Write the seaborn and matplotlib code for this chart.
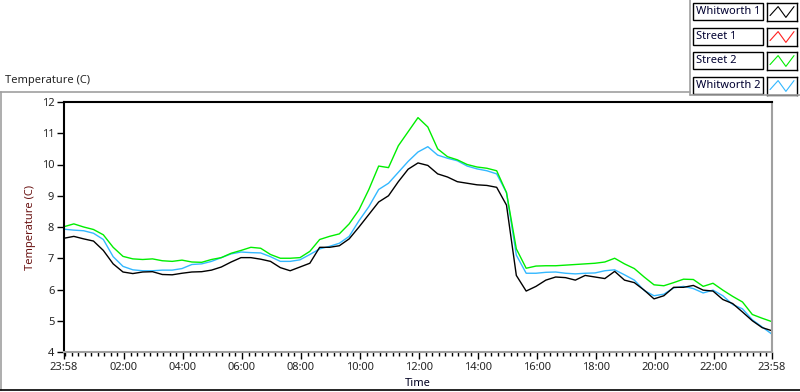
import numpy as np
import pandas as pd
import matplotlib
matplotlib.use("Agg")
import matplotlib.pyplot as plt
import seaborn as sns
from matplotlib.lines import Line2D
from matplotlib.patches import Rectangle

# samples every 20 minutes, counted from 23:58 the day before
minutes = np.arange(0, 1441, 20)

whitworth_1 = [7.64, 7.70, 7.62, 7.55, 7.25, 6.82, 6.56, 6.51, 6.56, 6.57,
               6.48, 6.47, 6.52, 6.56, 6.57, 6.62, 6.72, 6.88, 7.02, 7.02,
               6.97, 6.90, 6.70, 6.60, 6.72, 6.84, 7.35, 7.35, 7.40, 7.62,
               8.00, 8.40, 8.80, 9.00, 9.45, 9.85, 10.05, 9.97, 9.70, 9.60,
               9.45, 9.40, 9.35, 9.33, 9.27, 8.70, 6.45, 5.95, 6.10, 6.30,
               6.40, 6.38, 6.30, 6.45, 6.40, 6.35, 6.58, 6.30, 6.22, 5.98,
               5.70, 5.80, 6.07, 6.07, 6.13, 5.98, 5.95, 5.68, 5.55, 5.28,
               5.00, 4.78, 4.68]

street_1 = []  # no trace visible in the chart

street_2 = [8.01, 8.10, 8.00, 7.92, 7.75, 7.35, 7.06, 6.98, 6.96, 6.98,
            6.92, 6.90, 6.94, 6.88, 6.87, 6.96, 7.02, 7.16, 7.25, 7.35,
            7.32, 7.12, 7.00, 7.00, 7.02, 7.22, 7.60, 7.70, 7.78, 8.10,
            8.55, 9.20, 9.95, 9.90, 10.60, 11.05, 11.50, 11.20, 10.50, 10.25,
            10.15, 10.00, 9.92, 9.88, 9.80, 9.10, 7.30, 6.68, 6.75, 6.76,
            6.76, 6.78, 6.80, 6.82, 6.84, 6.88, 7.00, 6.82, 6.67, 6.40,
            6.15, 6.12, 6.22, 6.33, 6.32, 6.10, 6.20, 5.98, 5.78, 5.60,
            5.20, 5.08, 4.97]

whitworth_2 = [7.93, 7.90, 7.88, 7.80, 7.60, 7.05, 6.74, 6.63, 6.60, 6.60,
               6.62, 6.62, 6.67, 6.80, 6.82, 6.90, 7.02, 7.14, 7.20, 7.18,
               7.17, 7.05, 6.90, 6.90, 6.95, 7.12, 7.30, 7.38, 7.48, 7.70,
               8.20, 8.65, 9.20, 9.40, 9.75, 10.10, 10.40, 10.57, 10.30, 10.20,
               10.12, 9.95, 9.86, 9.80, 9.70, 9.10, 7.10, 6.52, 6.52, 6.55,
               6.56, 6.52, 6.50, 6.52, 6.53, 6.60, 6.63, 6.47, 6.30, 5.97,
               5.80, 5.85, 6.05, 6.10, 6.03, 5.89, 5.98, 5.80, 5.52, 5.38,
               5.03, 4.80, 4.57]

series_names = ["Whitworth 1", "Street 1", "Street 2", "Whitworth 2"]
colors = {"Whitworth 1": "#000000", "Street 1": "#ff2020",
          "Street 2": "#00ee00", "Whitworth 2": "#33b8ff"}

x_tick_pos = [0, 122, 242, 362, 482, 602, 722, 842, 962, 1082, 1202, 1322, 1440]
x_tick_labels = ["23:58", "02:00", "04:00", "06:00", "08:00", "10:00", "12:00",
                 "14:00", "16:00", "18:00", "20:00", "22:00", "23:58"]
y_ticks = [4, 5, 6, 7, 8, 9, 10, 11, 12]

frames = []
for name, vals in [("Whitworth 2", whitworth_2), ("Street 2", street_2),
                   ("Whitworth 1", whitworth_1)]:
    frames.append(pd.DataFrame({"minutes": minutes, "temp": vals, "series": name}))
df = pd.concat(frames, ignore_index=True)

sns.set_style("white")
plt.rcParams["font.family"] = ["Noto Sans", "DejaVu Sans"]
plt.rcParams["font.size"] = 8

W, H = 800, 392
fig = plt.figure(figsize=(8, 3.92), dpi=100)


def fx(px):
    return px / W


def fy(py):
    return 1 - py / H


ax = fig.add_axes([fx(64), fy(352), (772 - 64) / W, (352 - 102) / H])
sns.lineplot(data=df, x="minutes", y="temp", hue="series",
             hue_order=["Whitworth 2", "Street 2", "Whitworth 1"],
             palette=colors, estimator=None, linewidth=1.0, legend=False, ax=ax)

ax.set_xlim(0, 1440)
ax.set_ylim(4, 12)
ax.set_xticks(x_tick_pos)
ax.set_xticklabels(x_tick_labels)
ax.set_xticks(np.arange(2, 1441, 120 / 9), minor=True)
ax.set_yticks(y_ticks)
ax.tick_params(axis="both", which="major", direction="out", length=5, width=1,
               color="#000000", labelsize=8, pad=2)
ax.tick_params(axis="x", which="minor", direction="out", length=3, width=1,
               color="#000000")
ax.tick_params(axis="x", bottom=True, which="both")
ax.tick_params(axis="y", left=True)

for side in ["top", "left"]:
    ax.spines[side].set_color("#000000")
    ax.spines[side].set_linewidth(1.5)
for side in ["bottom", "right"]:
    ax.spines[side].set_color("#a0a0a0")
    ax.spines[side].set_linewidth(1.5)

ax.set_xlabel("Time", fontsize=8, color="#000020")
ax.xaxis.set_label_coords(0.5, -(383 - 352) / 250, transform=ax.transAxes)
ax.xaxis.label.set_va("center")
ax.set_ylabel("Temperature (C)", fontsize=8, color="#6b1414")
ax.yaxis.set_label_coords(-(64 - 31) / 708, 0.5)
ax.yaxis.label.set_va("center")

fig.text(fx(5), fy(80), "Temperature (C)", ha="left", va="center", fontsize=8)

# panel frame
gray = "#a0a0a0"
for (x0, y0, x1, y1, c) in [(0, 92, 690, 92, gray), (690, 0, 690, 95, gray),
                            (690, 95, 800, 95, gray), (1, 92, 1, 390, gray),
                            (0, 390, 800, 390, "#000000")]:
    fig.add_artist(Line2D([fx(x0), fx(x1)], [fy(y0), fy(y1)], color=c,
                          linewidth=1.2, transform=fig.transFigure))

# legend
row_top = [3, 28, 52, 77]
for name, top in zip(series_names, row_top):
    fig.add_artist(Rectangle((fx(693), fy(top + 17)), 70 / W, 17 / H,
                             facecolor="white", edgecolor="#000000",
                             linewidth=1.0, transform=fig.transFigure))
    fig.text(fx(696), fy(top + 8.5), name, ha="left", va="center",
             fontsize=8, color="#000030")
    lax = fig.add_axes([fx(767), fy(top + 18), 30 / W, 18 / H])
    lax.plot([0.1, 0.37, 0.63, 0.9], [0.3, 0.8, 0.2, 0.8],
             color=colors[name], linewidth=0.8)
    lax.set_xlim(0, 1)
    lax.set_ylim(0, 1)
    lax.set_xticks([])
    lax.set_yticks([])
    for s in lax.spines.values():
        s.set_color("#000000")
        s.set_linewidth(1.0)

fig.savefig("out.png", dpi=100)
